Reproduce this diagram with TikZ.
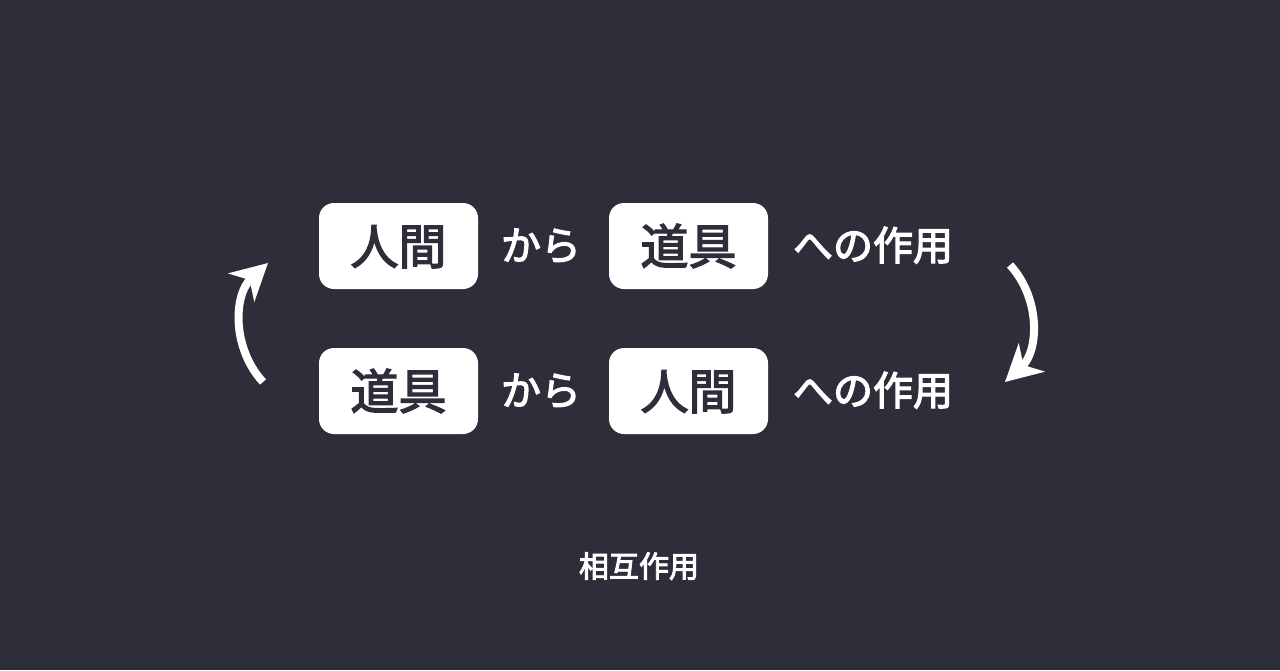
\documentclass[tikz,border=0pt]{standalone}
\usepackage{fontspec}
\newfontfamily\jp{Noto Sans CJK JP}[FakeBold=3]
\usepackage{tikz}
\usetikzlibrary{arrows.meta}
\definecolor{bg}{HTML}{2D2E3A}
\tikzset{>={Stealth[length=18pt, width=19pt, inset=5.5pt]}}
\tikzstyle{card} = [rectangle, fill=white, rounded corners=7.5pt, minimum width=79.5pt, minimum height=43pt, inner sep=0pt, text=bg, font=\jp\fontsize{24pt}{24pt}\selectfont, text height=18.2pt, text depth=0pt]
\tikzstyle{word} = [inner sep=0pt, text=white, font=\jp\fontsize{20pt}{20pt}\selectfont, text height=15.2pt, text depth=0pt]
\tikzstyle{turn} = [->, draw=white, line width=4pt]

\begin{document}
\begin{tikzpicture}[x=0.5pt, y=-0.5pt]
\fill [bg] (0,0) rectangle (1280,670);
\useasboundingbox (0,0) rectangle (1280,670);
% upper row
\node [card] (H1) at (398.5,246) {人間};
\node [word] (K1) at (541,245) {から};
\node [card] (T1) at (688.5,246) {道具};
\node [word] (E1) at (873,245) {への作用};
% lower row
\node [card] (T2) at (398.5,391) {道具};
\node [word] (K2) at (541,390) {から};
\node [card] (H2) at (688.5,391) {人間};
\node [word] (E2) at (873,390) {への作用};
% caption
\node [word, font=\jp\fontsize{15pt}{15pt}\selectfont, text height=11.4pt] (C) at (639,566) {相互作用};
% cycle arrows
\coordinate (L1) at (263,382);
\coordinate (L2) at (268,263);
\coordinate (R1) at (1010,265);
\coordinate (R2) at (1005,382);
\draw [turn, bend left=45] (L1) to (L2);
\draw [turn, bend left=45] (R1) to (R2);
\end{tikzpicture}
\end{document}
